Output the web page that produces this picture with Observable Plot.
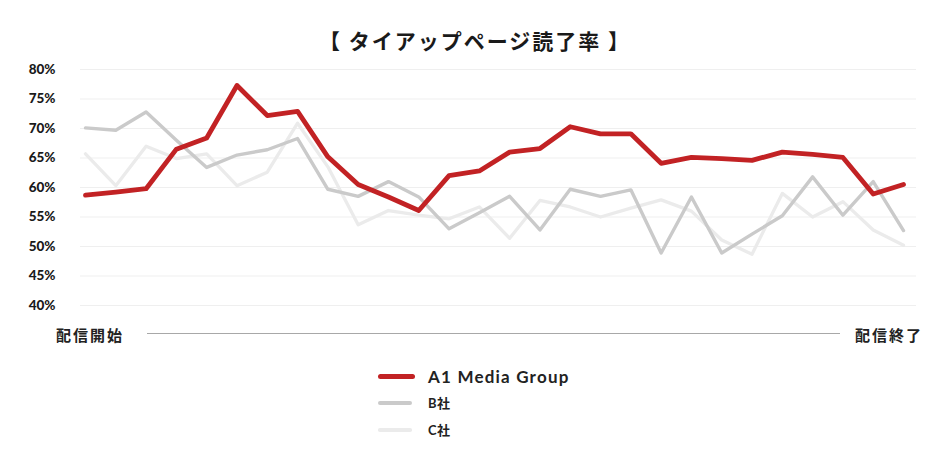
<!DOCTYPE html>
<html>
<head>
<meta charset="utf-8">
<script src="https://cdn.jsdelivr.net/npm/d3@7"></script>
<script src="https://cdn.jsdelivr.net/npm/@observablehq/plot@0.6"></script>
<style>
  html, body { margin: 0; padding: 0; background: #fff; }
  #wrap { position: relative; width: 952px; height: 456px; overflow: hidden; font-family: Lato, "Noto Sans CJK JP", sans-serif; color: #222; }
  .abs { position: absolute; white-space: nowrap; }
</style>
</head>
<body>
<div id="wrap">
  <div id="title" class="abs"></div>
  <div id="chart" class="abs" style="left:0;top:56px;"></div>
  <div id="startLabel" class="abs"></div>
  <div id="axisLine" class="abs"></div>
  <div id="endLabel" class="abs"></div>
  <div id="legend"></div>
</div>
<script>
// ---- data ----
const titleText = "【 タイアップページ読了率 】";
const startText = "配信開始";
const endText = "配信終了";
const seriesNames = ["A1 Media Group", "B社", "C社"];
const seriesColors = ["#c22224", "#cacaca", "#ebebeb"];
const yTicks = [40, 45, 50, 55, 60, 65, 70, 75, 80];

const seriesA1 = [58.7, 59.2, 59.8, 66.5, 68.4, 77.3, 72.2, 72.9, 65.2, 60.5, 58.4, 56.1, 62.0, 62.8,
                  66.0, 66.6, 70.3, 69.1, 69.1, 64.1, 65.1, 64.9, 64.6, 66.0, 65.6, 65.1, 58.9, 60.5];
const seriesB  = [70.1, 69.7, 72.8, 68.0, 63.4, 65.5, 66.4, 68.3, 59.7, 58.5, 61.0, 58.4, 53.0, 55.7,
                  58.5, 52.8, 59.7, 58.5, 59.6, 48.9, 58.4, 48.9, 52.1, 55.2, 61.8, 55.3, 61.0, 52.7];
const seriesC  = [65.7, 60.3, 67.0, 64.9, 65.7, 60.3, 62.6, 70.9, 63.5, 53.7, 56.1, 55.3, 54.7, 56.7,
                  51.4, 57.8, 56.7, 55.0, 56.5, 57.9, 56.0, 51.1, 48.7, 59.0, 55.0, 57.6, 52.8, 50.2];

// ---- chart ----
const n = seriesA1.length;
const chart = Plot.plot({
  width: 952,
  height: 260,
  marginTop: 13,
  marginBottom: 11,
  marginLeft: 80,
  marginRight: 36,
  style: { fontFamily: 'Lato, "Noto Sans CJK JP", sans-serif', color: "#222", background: "transparent" },
  x: { domain: [0, n - 1], insetLeft: 5, insetRight: 13, axis: null },
  y: { domain: [40, 80], axis: null },
  marks: [
    Plot.gridY(yTicks, { stroke: "#efefef", strokeOpacity: 1, strokeWidth: 1 }),
    Plot.axisY(yTicks, {
      tickSize: 0, tickPadding: 25, tickFormat: d => d + "%",
      fontSize: 13.5, fontWeight: 900, fill: "#1a1a1a"
    }),
    Plot.lineY(seriesC, { x: (d, i) => i, y: d => d, stroke: seriesColors[2], strokeWidth: 3.3, strokeLinejoin: "round" }),
    Plot.lineY(seriesB, { x: (d, i) => i, y: d => d, stroke: seriesColors[1], strokeWidth: 3.4, strokeLinejoin: "round" }),
    Plot.lineY(seriesA1, { x: (d, i) => i, y: d => d, stroke: seriesColors[0], strokeWidth: 4.8, strokeLinejoin: "round" })
  ]
});
document.getElementById("chart").appendChild(chart);

// ---- title ----
const t = document.getElementById("title");
t.textContent = titleText;
Object.assign(t.style, {
  left: "0px", top: "28px", width: "950px", textAlign: "center",
  font: '700 21px "Noto Sans CJK JP", sans-serif', letterSpacing: "2px", lineHeight: "24px", color: "#1a1a1a"
});

// ---- start / end axis row ----
const sl = document.getElementById("startLabel");
sl.textContent = startText;
Object.assign(sl.style, {
  left: "56px", top: "325px", font: '700 15px "Noto Sans CJK JP", sans-serif',
  letterSpacing: "2px", lineHeight: "20px", color: "#222"
});
const el = document.getElementById("endLabel");
el.textContent = endText;
Object.assign(el.style, {
  left: "855px", top: "325px", font: '700 15px "Noto Sans CJK JP", sans-serif',
  letterSpacing: "2px", lineHeight: "20px", color: "#222"
});
const al = document.getElementById("axisLine");
Object.assign(al.style, { left: "147px", top: "332.5px", width: "693px", height: "1.5px", background: "#a8a8a8" });

// ---- legend ----
const legend = document.getElementById("legend");
const rows = [
  { top: 376, sw: 37, th: 5, font: "700 17px Lato, sans-serif", ls: "1.2px" },
  { top: 403, sw: 34, th: 4, font: '700 13px Lato, "Noto Sans CJK JP", sans-serif', ls: "0.5px" },
  { top: 430, sw: 34, th: 3.5, font: '700 13px Lato, "Noto Sans CJK JP", sans-serif', ls: "0.5px" }
];
seriesNames.forEach((name, i) => {
  const r = rows[i];
  const sw = document.createElement("div");
  sw.className = "abs";
  Object.assign(sw.style, {
    left: "378px", top: (r.top - r.th / 2) + "px", width: r.sw + "px", height: r.th + "px",
    background: seriesColors[i], borderRadius: (r.th / 2) + "px"
  });
  legend.appendChild(sw);
  const tx = document.createElement("div");
  tx.className = "abs";
  tx.textContent = name;
  Object.assign(tx.style, {
    left: "428px", top: (r.top - 10) + "px", lineHeight: "20px", font: r.font,
    letterSpacing: r.ls, color: "#222"
  });
  legend.appendChild(tx);
});
</script>
</body>
</html>
